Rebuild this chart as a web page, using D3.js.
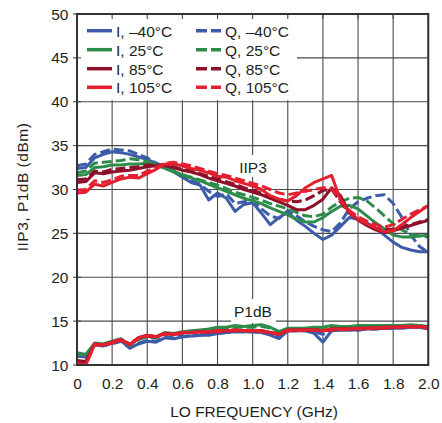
<!DOCTYPE html>
<html>
<head>
<meta charset="utf-8">
<script src="https://cdn.jsdelivr.net/npm/d3@7"></script>
<style>
  html, body { margin: 0; padding: 0; background: #fff; }
  svg { display: block; }
  text { font-family: "Liberation Sans", Arial, sans-serif; fill: #231f20; }
</style>
</head>
<body>
<svg id="chart" width="442" height="423"></svg>
<script>
// ---- data ----
const freq = [0,0.05,0.1,0.15,0.2,0.25,0.3,0.35,0.4,0.45,0.5,0.55,0.6,0.65,0.7,0.75,0.8,0.85,0.9,0.95,1.0,
  1.05,1.1,1.15,1.2,1.25,1.3,1.35,1.4,1.45,1.5,1.55,1.6,1.65,1.7,1.75,1.8,1.85,1.9,1.95,2.0];

// IIP3 (dBm)
const iip3_I_m40 = [32.4,32.5,33.6,34.0,34.3,34.2,34.0,33.7,33.4,33.0,32.5,32.0,31.4,30.8,30.5,28.8,29.6,29.0,27.5,28.3,28.5,
  27.3,26.0,26.8,27.4,26.5,25.8,25.0,24.3,24.8,25.8,26.8,26.6,26.2,25.6,24.8,24.0,23.4,23.1,22.9,22.9];
const iip3_Q_m40 = [32.7,32.9,34.0,34.3,34.6,34.5,34.4,34.0,33.6,33.0,32.6,32.2,31.6,31.0,30.6,29.8,29.2,29.5,28.4,28.6,28.8,
  27.8,27.0,26.7,27.6,27.0,26.3,25.8,25.4,25.2,26.2,27.8,28.6,29.0,29.3,29.4,28.4,26.8,24.8,23.5,22.8];
const iip3_I_25 = [31.6,31.7,32.5,32.6,32.8,32.8,32.9,32.9,33.0,32.8,32.4,32.0,31.6,31.3,31.0,30.6,30.2,29.8,29.4,29.0,28.7,
  28.4,27.9,27.5,27.1,26.6,26.3,26.3,26.8,27.5,28.1,28.2,27.8,27.0,26.2,25.5,24.8,24.6,24.6,24.7,24.8];
const iip3_Q_25 = [31.9,32.1,33.0,33.1,33.2,33.3,33.5,33.4,33.2,32.9,32.5,32.1,31.7,31.4,31.1,30.8,30.5,30.1,29.7,29.4,29.1,
  28.8,28.4,28.1,27.8,27.4,27.0,26.9,27.2,28.0,28.6,29.0,29.1,28.7,27.9,27.0,26.1,25.4,24.9,24.7,24.6];
const iip3_I_85 = [30.8,30.9,31.9,31.8,32.0,32.1,32.2,32.4,32.6,32.7,32.7,32.5,32.2,32.0,31.7,31.3,31.0,30.7,30.4,30.0,29.7,
  29.4,29.0,28.6,28.2,27.7,27.7,28.2,28.9,30.2,29.3,27.4,26.5,25.9,25.4,25.1,25.3,25.6,25.9,26.2,26.5];
const iip3_Q_85 = [31.1,31.2,32.1,32.0,32.3,32.4,32.5,32.6,32.8,32.8,32.8,32.6,32.3,32.1,31.8,31.5,31.2,30.9,30.6,30.2,29.9,
  29.6,29.2,28.9,28.7,28.6,28.8,29.3,29.9,30.0,28.6,27.3,26.6,26.0,25.6,25.4,25.5,25.7,26.0,26.3,26.6];
const iip3_I_105 = [29.6,29.7,30.6,30.4,30.8,31.2,31.4,31.3,31.8,32.3,32.9,32.9,32.7,32.4,32.2,31.9,31.5,31.4,31.0,30.7,30.4,
  30.0,29.3,28.9,28.7,29.3,30.2,30.8,31.2,31.6,28.8,27.4,26.6,26.1,25.6,25.2,25.3,26.0,26.8,27.5,28.2];
const iip3_Q_105 = [29.9,30.0,31.0,30.8,31.1,31.5,31.6,31.6,32.1,32.5,33.0,33.1,32.9,32.7,32.4,32.1,31.8,31.6,31.3,31.0,30.7,
  30.4,30.0,29.6,29.4,29.6,29.8,30.0,30.2,30.1,28.8,27.6,26.9,26.4,26.0,25.7,26.0,26.6,27.2,27.7,28.1];

// P1dB (dBm)
const p1db_I_m40 = [11.1,11.0,12.3,12.2,12.5,12.8,11.9,12.4,12.7,12.6,13.1,13.0,13.2,13.3,13.4,13.4,13.6,13.7,13.8,13.8,13.8,
  13.7,13.4,13.0,13.9,13.9,13.9,13.6,12.6,13.9,14.0,14.0,14.0,14.1,14.1,14.2,14.2,14.2,14.3,14.3,14.1];
const p1db_Q_m40 = [11.0,10.9,12.2,12.2,12.4,12.7,12.0,12.5,12.8,12.7,13.2,13.1,13.3,13.3,13.4,13.5,13.6,13.7,13.8,13.8,13.8,
  13.7,13.5,13.2,13.9,13.9,13.9,13.8,13.5,13.9,14.0,14.0,14.0,14.1,14.1,14.2,14.2,14.3,14.3,14.3,14.2];
const p1db_I_25 = [11.4,11.2,12.5,12.4,12.7,13.0,12.2,13.0,13.3,13.2,13.7,13.6,13.8,13.9,14.0,14.1,14.3,14.3,14.5,14.4,14.5,
  14.6,14.3,13.8,14.2,14.2,14.2,14.3,14.3,14.5,14.4,14.4,14.5,14.5,14.5,14.5,14.5,14.5,14.6,14.5,14.4];
const p1db_Q_25 = [11.3,11.1,12.4,12.3,12.6,12.9,12.2,12.9,13.2,13.1,13.6,13.5,13.7,13.8,13.9,14.0,14.1,14.2,14.3,14.3,14.3,
  14.4,14.2,13.8,14.1,14.1,14.2,14.2,14.2,14.4,14.3,14.3,14.4,14.4,14.4,14.4,14.4,14.5,14.5,14.5,14.4];
const p1db_I_85 = [10.5,10.4,12.4,12.3,12.6,12.9,12.3,13.1,13.4,13.2,13.6,13.5,13.7,13.7,13.8,13.8,13.9,13.9,14.0,13.9,13.9,
  13.9,13.7,13.5,14.0,14.0,14.0,14.0,13.9,14.1,14.1,14.1,14.2,14.2,14.2,14.3,14.3,14.4,14.4,14.4,14.3];
const p1db_Q_85 = [10.4,10.3,12.3,12.3,12.6,12.9,12.4,13.1,13.3,13.2,13.6,13.5,13.6,13.7,13.7,13.8,13.8,13.9,13.9,13.9,13.9,
  13.9,13.7,13.5,13.9,14.0,14.0,14.0,13.9,14.0,14.1,14.1,14.1,14.2,14.2,14.2,14.3,14.3,14.4,14.4,14.3];
const p1db_I_105 = [10.1,10.0,12.4,12.3,12.6,12.9,12.3,13.1,13.4,13.2,13.6,13.5,13.7,13.7,13.8,13.8,13.9,13.9,14.0,13.9,13.9,
  13.9,13.7,13.5,14.0,14.0,14.0,14.0,13.9,14.1,14.1,14.1,14.2,14.2,14.2,14.3,14.3,14.4,14.4,14.4,14.3];
const p1db_Q_105 = [10.2,10.0,12.3,12.2,12.5,12.8,12.4,13.0,13.3,13.3,13.5,13.5,13.6,13.7,13.7,13.8,13.8,13.9,13.9,13.9,13.9,
  13.8,13.7,13.5,13.9,13.9,14.0,14.0,13.9,14.0,14.0,14.1,14.1,14.2,14.2,14.2,14.3,14.3,14.3,14.3,14.2];

const yTicks = [10,15,20,25,30,35,40,45,50];
const xTicks = [0,0.2,0.4,0.6,0.8,1.0,1.2,1.4,1.6,1.8,2.0];
const xTickLabels = ["0","0.2","0.4","0.6","0.8","1.0","1.2","1.4","1.6","1.8","2.0"];

const legendLabels = ["I, \u201340\u00B0C","I, 25\u00B0C","I, 85\u00B0C","I, 105\u00B0C",
                      "Q, \u201340\u00B0C","Q, 25\u00B0C","Q, 85\u00B0C","Q, 105\u00B0C"];
const tempColors = ["#3c5ba9","#2e8c4b","#8c1129","#e41f2f"];

const seriesList = [
  {v: iip3_I_m40, c: 0, dash: false}, {v: iip3_Q_m40, c: 0, dash: true},
  {v: iip3_I_25,  c: 1, dash: false}, {v: iip3_Q_25,  c: 1, dash: true},
  {v: iip3_I_85,  c: 2, dash: false}, {v: iip3_Q_85,  c: 2, dash: true},
  {v: iip3_I_105, c: 3, dash: false}, {v: iip3_Q_105, c: 3, dash: true},
  {v: p1db_I_m40, c: 0, dash: false}, {v: p1db_Q_m40, c: 0, dash: true},
  {v: p1db_I_25,  c: 1, dash: false}, {v: p1db_Q_25,  c: 1, dash: true},
  {v: p1db_I_85,  c: 2, dash: false}, {v: p1db_Q_85,  c: 2, dash: true},
  {v: p1db_I_105, c: 3, dash: false}, {v: p1db_Q_105, c: 3, dash: true}
];

// ---- drawing ----
const svg = d3.select("#chart");
const L = 77, R = 428.3, T = 14, B = 365;
const x = d3.scaleLinear().domain([0, 2]).range([L, R]);
const y = d3.scaleLinear().domain([10, 50]).range([B, T]);
const FS = 15.5;

// grid
const grid = svg.append("g");
grid.selectAll("line.v").data(xTicks).join("line")
  .attr("x1", d => x(d)).attr("x2", d => x(d)).attr("y1", T).attr("y2", B)
  .attr("stroke", "#4a4a4a").attr("stroke-width", 1.1);
grid.selectAll("line.h").data(yTicks).join("line")
  .attr("x1", L).attr("x2", R).attr("y1", d => y(d)).attr("y2", d => y(d))
  .attr("stroke", "#4a4a4a").attr("stroke-width", 1.1);

// legend background
svg.append("rect").attr("x", L).attr("y", T).attr("width", 220).attr("height", y(40) - T - 1.5).attr("fill", "#fff");

// ticks (inward top, crossing left)
const tk = svg.append("g").attr("stroke", "#4a4a4a").attr("stroke-width", 1.1);
tk.selectAll("line.t").data(xTicks).join("line")
  .attr("x1", d => x(d)).attr("x2", d => x(d)).attr("y1", T).attr("y2", T + 5);
tk.selectAll("line.l").data(yTicks).join("line")
  .attr("x1", L - 4).attr("x2", L + 4).attr("y1", d => y(d)).attr("y2", d => y(d));

// label boxes
svg.append("rect").attr("x", 236).attr("y", 155).attr("width", 34).attr("height", 22).attr("fill", "#fff");
svg.append("rect").attr("x", 231).attr("y", 299).attr("width", 45).attr("height", 24).attr("fill", "#fff");

// data lines
svg.append("clipPath").attr("id", "plotclip").append("rect")
  .attr("x", L).attr("y", T).attr("width", R - L).attr("height", B - T);
const line = d3.line().x((d, i) => x(freq[i])).y(d => y(d));
const lines = svg.append("g").attr("clip-path", "url(#plotclip)");
lines.selectAll("path").data(seriesList).join("path")
  .attr("d", d => line(d.v))
  .attr("fill", "none")
  .attr("stroke", d => tempColors[d.c])
  .attr("stroke-width", 3)
  .attr("stroke-linejoin", "round")
  .attr("stroke-dasharray", d => d.dash ? "10,4" : null);

// frame
svg.append("rect").attr("x", L).attr("y", T).attr("width", R - L).attr("height", B - T)
  .attr("fill", "none").attr("stroke", "#333").attr("stroke-width", 2);

// axis labels
svg.append("g").selectAll("text").data(yTicks).join("text")
  .attr("x", 68.5).attr("y", d => y(d) + 5.6).attr("text-anchor", "end")
  .attr("font-size", FS).text(d => d);
svg.append("g").selectAll("text").data(xTicks).join("text")
  .attr("x", d => x(d) + 0.6).attr("y", 389).attr("text-anchor", "middle")
  .attr("font-size", FS).text((d, i) => xTickLabels[i]);

svg.append("text").attr("x", 254).attr("y", 417).attr("text-anchor", "middle")
  .attr("font-size", FS).text("LO FREQUENCY (GHz)");
svg.append("text").attr("transform", "translate(28,187) rotate(-90)").attr("text-anchor", "middle")
  .attr("font-size", FS).attr("letter-spacing", "0.5px").text("IIP3, P1dB (dBm)");

svg.append("text").attr("x", 253).attr("y", 173).attr("text-anchor", "middle")
  .attr("font-size", FS).text("IIP3");
svg.append("text").attr("x", 253).attr("y", 317).attr("text-anchor", "middle")
  .attr("font-size", FS).text("P1dB");

// legend
const legRows = [30.7, 49.7, 68.7, 87.3];
const lg = svg.append("g");
legendLabels.forEach((lab, i) => {
  const col = Math.floor(i / 4), row = i % 4;
  const x0 = col === 0 ? 87 : 196;
  lg.append("line").attr("x1", x0).attr("x2", x0 + 25).attr("y1", legRows[row]).attr("y2", legRows[row])
    .attr("stroke", tempColors[row]).attr("stroke-width", 3.5)
    .attr("stroke-dasharray", col === 1 ? "11,4" : null);
  lg.append("text").attr("x", x0 + 29).attr("y", legRows[row] + 6)
    .attr("font-size", FS).text(lab);
});
</script>
</body>
</html>
